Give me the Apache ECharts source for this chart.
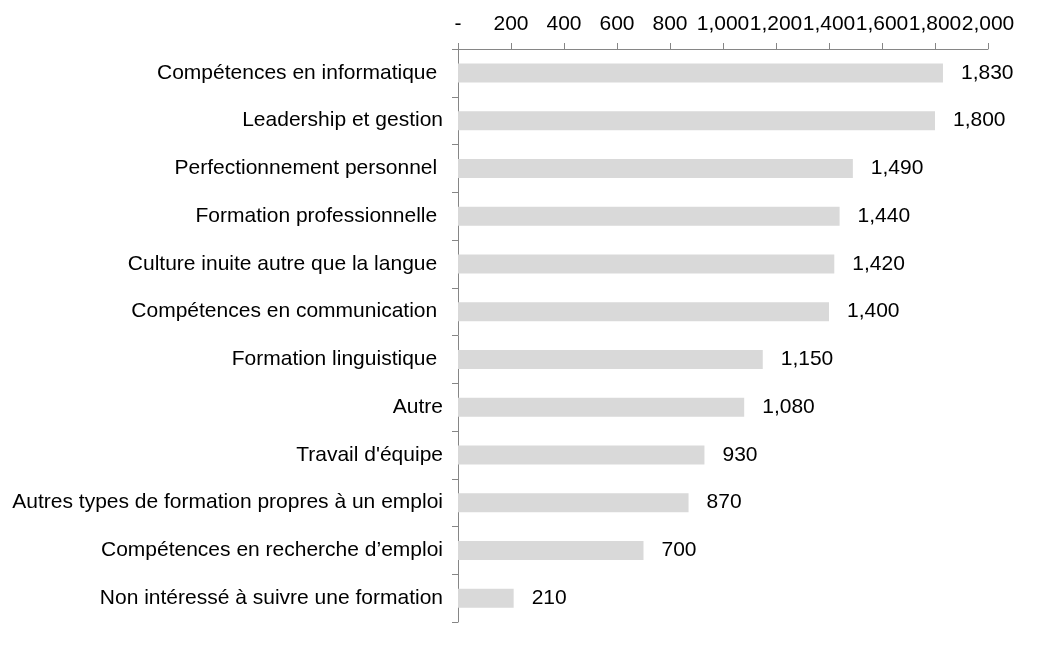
<!DOCTYPE html>
<html>
<head>
<meta charset="utf-8">
<script src="https://cdn.jsdelivr.net/npm/echarts@6/dist/echarts.min.js"></script>
<style>
html,body{margin:0;padding:0;background:#fff;}
#chart{width:1044px;height:645px;}
</style>
</head>
<body>
<div id="chart"></div>
<script>
const categories = [
  "Compétences en informatique ",
  "Leadership et gestion",
  "Perfectionnement personnel ",
  "Formation professionnelle ",
  "Culture inuite autre que la langue ",
  "Compétences en communication ",
  "Formation linguistique ",
  "Autre",
  "Travail d'équipe",
  "Autres types de formation propres à un emploi",
  "Compétences en recherche d’emploi",
  "Non intéressé à suivre une formation"
];
const values = [1830, 1800, 1490, 1440, 1420, 1400, 1150, 1080, 930, 870, 700, 210];
const axisMin = 0, axisMax = 2000, axisInterval = 200;

const fmt = v => v === 0 ? '-' : v.toLocaleString('en-US');
const font = '"Liberation Sans", Arial, sans-serif';
const axisColor = '#868686';

const chart = echarts.init(document.getElementById('chart'));
chart.setOption({
  animation: false,
  backgroundColor: '#ffffff',
  grid: { left: 458, right: 56, top: 49, bottom: 23, containLabel: false },
  xAxis: {
    type: 'value', position: 'top',
    min: axisMin, max: axisMax, interval: axisInterval,
    axisLine: { show: true, lineStyle: { color: axisColor, width: 1 } },
    axisTick: { show: true, length: 6, lineStyle: { color: axisColor } },
    splitLine: { show: false },
    axisLabel: { formatter: fmt, color: '#000', fontSize: 21, fontFamily: font, margin: 14, showMaxLabel: true, showMinLabel: true, hideOverlap: false }
  },
  yAxis: {
    type: 'category', data: categories, inverse: true,
    axisLine: { show: true, lineStyle: { color: axisColor, width: 1 } },
    axisTick: { show: true, length: 6, alignWithLabel: false, lineStyle: { color: axisColor } },
    axisLabel: { color: '#000', fontSize: 21, fontFamily: font, margin: 15 }
  },
  series: [{
    type: 'bar', data: values, barWidth: 19,
    itemStyle: { color: '#d9d9d9' },
    label: { show: true, position: 'right', distance: 18, color: '#000', fontSize: 21, fontFamily: font,
      formatter: p => fmt(p.value) }
  }]
});
</script>
</body>
</html>
